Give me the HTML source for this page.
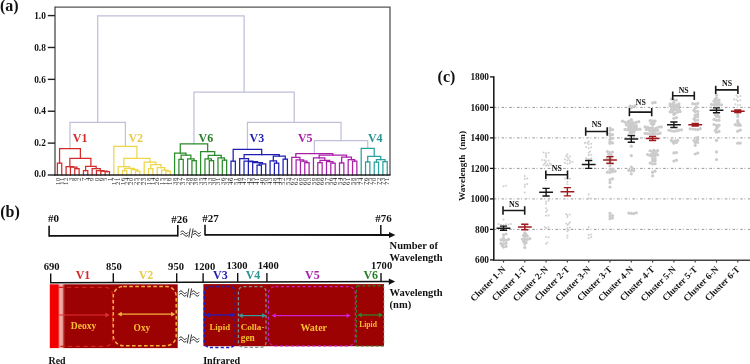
<!DOCTYPE html>
<html><head><meta charset="utf-8"><style>
html,body{margin:0;padding:0;background:#fff;}
svg{display:block;filter:blur(0.4px);}
text{font-family:'Liberation Serif',serif;font-weight:bold;}
.lf text{font-weight:normal;}
</style></head><body>
<svg width="750" height="364" viewBox="0 0 750 364">
<rect width="750" height="364" fill="#fff"/>
<text x="0.00" y="11.30" font-size="16" fill="#111" text-anchor="start" >(a)</text>
<g fill="none" stroke-width="1.25" stroke-linecap="square">
<path d="M69.98,148.50V122.40H125.38V146.30" stroke="#c0c0da"/>
<path d="M314.34,153.70V140.50H367.71V148.30" stroke="#c0c0da"/>
<path d="M247.43,149.40V122.40H341.03V140.50" stroke="#c0c0da"/>
<path d="M193.97,143.90V92.00H294.23V122.40" stroke="#c0c0da"/>
<path d="M97.68,122.40V15.90H244.10V92.00" stroke="#c0c0da"/>
<path d="M57.40,175.00V163.00H61.74V175.00" stroke="#d42a2a"/>
<path d="M74.76,175.00V168.50H79.10V175.00" stroke="#d42a2a"/>
<path d="M70.42,175.00V167.00H76.93V168.50" stroke="#d42a2a"/>
<path d="M66.08,175.00V166.50H73.67V167.00" stroke="#d42a2a"/>
<path d="M83.44,175.00V170.50H87.78V175.00" stroke="#d42a2a"/>
<path d="M105.14,175.00V171.50H109.48V175.00" stroke="#d42a2a"/>
<path d="M100.80,175.00V171.00H107.31V171.50" stroke="#d42a2a"/>
<path d="M96.46,175.00V170.50H104.05V171.00" stroke="#d42a2a"/>
<path d="M92.12,175.00V168.60H100.26V170.50" stroke="#d42a2a"/>
<path d="M85.61,170.50V166.30H96.19V168.60" stroke="#d42a2a"/>
<path d="M69.88,166.50V158.40H90.90V166.30" stroke="#d42a2a"/>
<path d="M59.57,163.00V148.50H80.39V158.40" stroke="#d42a2a"/>
<path d="M122.50,175.00V170.50H126.84V175.00" stroke="#eed648"/>
<path d="M135.52,175.00V171.00H139.86V175.00" stroke="#eed648"/>
<path d="M131.18,175.00V169.50H137.69V171.00" stroke="#eed648"/>
<path d="M124.67,170.50V168.40H134.44V169.50" stroke="#eed648"/>
<path d="M118.16,175.00V166.50H129.55V168.40" stroke="#eed648"/>
<path d="M148.54,175.00V168.50H152.88V175.00" stroke="#eed648"/>
<path d="M165.90,175.00V171.00H170.24V175.00" stroke="#eed648"/>
<path d="M161.56,175.00V170.00H168.07V171.00" stroke="#eed648"/>
<path d="M157.22,175.00V167.50H164.81V170.00" stroke="#eed648"/>
<path d="M150.71,168.50V164.60H161.02V167.50" stroke="#eed648"/>
<path d="M144.20,175.00V162.20H155.86V164.60" stroke="#eed648"/>
<path d="M123.86,166.50V158.30H150.03V162.20" stroke="#eed648"/>
<path d="M113.82,175.00V146.30H136.94V158.30" stroke="#eed648"/>
<path d="M178.92,175.00V159.40H183.26V175.00" stroke="#2a8c2a"/>
<path d="M191.94,175.00V160.50H196.28V175.00" stroke="#2a8c2a"/>
<path d="M187.60,175.00V158.90H194.11V160.50" stroke="#2a8c2a"/>
<path d="M181.09,159.40V155.10H190.86V158.90" stroke="#2a8c2a"/>
<path d="M174.58,175.00V153.00H185.97V155.10" stroke="#2a8c2a"/>
<path d="M209.30,175.00V160.50H213.64V175.00" stroke="#2a8c2a"/>
<path d="M204.96,175.00V158.90H211.47V160.50" stroke="#2a8c2a"/>
<path d="M222.32,175.00V160.00H226.66V175.00" stroke="#2a8c2a"/>
<path d="M217.98,175.00V157.80H224.49V160.00" stroke="#2a8c2a"/>
<path d="M208.22,158.90V155.30H221.24V157.80" stroke="#2a8c2a"/>
<path d="M200.62,175.00V151.70H214.73V155.30" stroke="#2a8c2a"/>
<path d="M180.28,153.00V143.90H207.67V151.70" stroke="#2a8c2a"/>
<path d="M231.00,175.00V161.00H235.34V175.00" stroke="#1e1eb4"/>
<path d="M257.04,175.00V165.00H261.38V175.00" stroke="#1e1eb4"/>
<path d="M259.21,165.00V163.90H265.72V175.00" stroke="#1e1eb4"/>
<path d="M252.70,175.00V162.60H262.46V163.90" stroke="#1e1eb4"/>
<path d="M248.36,175.00V161.70H257.58V162.60" stroke="#1e1eb4"/>
<path d="M244.02,175.00V161.00H252.97V161.70" stroke="#1e1eb4"/>
<path d="M239.68,175.00V158.60H248.50V161.00" stroke="#1e1eb4"/>
<path d="M274.40,175.00V163.00H278.74V175.00" stroke="#1e1eb4"/>
<path d="M270.06,175.00V160.80H276.57V163.00" stroke="#1e1eb4"/>
<path d="M283.08,175.00V159.10H287.42V175.00" stroke="#1e1eb4"/>
<path d="M273.31,160.80V156.00H285.25V159.10" stroke="#1e1eb4"/>
<path d="M244.09,158.60V154.50H279.28V156.00" stroke="#1e1eb4"/>
<path d="M233.17,161.00V149.40H261.69V154.50" stroke="#1e1eb4"/>
<path d="M304.78,175.00V162.50H309.12V175.00" stroke="#aa1eaa"/>
<path d="M300.44,175.00V161.00H306.95V162.50" stroke="#aa1eaa"/>
<path d="M296.10,175.00V159.80H303.69V161.00" stroke="#aa1eaa"/>
<path d="M291.76,175.00V157.40H299.90V159.80" stroke="#aa1eaa"/>
<path d="M317.80,175.00V162.50H322.14V175.00" stroke="#aa1eaa"/>
<path d="M330.82,175.00V163.00H335.16V175.00" stroke="#aa1eaa"/>
<path d="M326.48,175.00V161.50H332.99V163.00" stroke="#aa1eaa"/>
<path d="M319.97,162.50V160.30H329.74V161.50" stroke="#aa1eaa"/>
<path d="M313.46,175.00V157.90H324.85V160.30" stroke="#aa1eaa"/>
<path d="M339.50,175.00V162.80H343.84V175.00" stroke="#aa1eaa"/>
<path d="M352.52,175.00V161.00H356.86V175.00" stroke="#aa1eaa"/>
<path d="M348.18,175.00V159.60H354.69V161.00" stroke="#aa1eaa"/>
<path d="M341.67,162.80V157.10H351.43V159.60" stroke="#aa1eaa"/>
<path d="M319.16,157.90V155.10H346.55V157.10" stroke="#aa1eaa"/>
<path d="M295.83,157.40V153.70H332.85V155.10" stroke="#aa1eaa"/>
<path d="M365.54,175.00V161.90H369.88V175.00" stroke="#2aa0a0"/>
<path d="M374.22,175.00V162.00H378.56V175.00" stroke="#2aa0a0"/>
<path d="M382.90,175.00V161.50H387.24V175.00" stroke="#2aa0a0"/>
<path d="M376.39,162.00V159.50H385.07V161.50" stroke="#2aa0a0"/>
<path d="M367.71,161.90V156.40H380.73V159.50" stroke="#2aa0a0"/>
<path d="M361.20,175.00V148.30H374.22V156.40" stroke="#2aa0a0"/>
</g>
<path d="M55.0,7.2H390.0V175.0" fill="none" stroke="#555" stroke-width="1.3"/>
<line x1="55.00" y1="6.60" x2="55.00" y2="175.70" stroke="#4a4a4a" stroke-width="1.3" />
<line x1="54.30" y1="175.00" x2="390.60" y2="175.00" stroke="#222" stroke-width="1.5" />
<line x1="47.80" y1="175.00" x2="55.00" y2="175.00" stroke="#222" stroke-width="1.4" />
<text x="45.80" y="177.30" font-size="9.3" fill="#111" text-anchor="end" >0.0</text>
<line x1="47.80" y1="143.12" x2="55.00" y2="143.12" stroke="#222" stroke-width="1.4" />
<text x="45.80" y="146.32" font-size="9.3" fill="#111" text-anchor="end" >0.2</text>
<line x1="47.80" y1="111.24" x2="55.00" y2="111.24" stroke="#222" stroke-width="1.4" />
<text x="45.80" y="114.44" font-size="9.3" fill="#111" text-anchor="end" >0.4</text>
<line x1="47.80" y1="79.36" x2="55.00" y2="79.36" stroke="#222" stroke-width="1.4" />
<text x="45.80" y="82.56" font-size="9.3" fill="#111" text-anchor="end" >0.6</text>
<line x1="47.80" y1="47.48" x2="55.00" y2="47.48" stroke="#222" stroke-width="1.4" />
<text x="45.80" y="50.68" font-size="9.3" fill="#111" text-anchor="end" >0.8</text>
<line x1="47.80" y1="15.60" x2="55.00" y2="15.60" stroke="#222" stroke-width="1.4" />
<text x="45.80" y="18.80" font-size="9.3" fill="#111" text-anchor="end" >1.0</text>
<text x="72.80" y="142.00" font-size="12" fill="#d42a2a" text-anchor="start" >V1</text>
<text x="128.40" y="142.00" font-size="12" fill="#e6cc50" text-anchor="start" >V2</text>
<text x="198.50" y="142.00" font-size="12" fill="#287e28" text-anchor="start" >V6</text>
<text x="249.50" y="142.00" font-size="12" fill="#1e1eb4" text-anchor="start" >V3</text>
<text x="297.90" y="142.00" font-size="12" fill="#aa1eaa" text-anchor="start" >V5</text>
<text x="367.90" y="142.00" font-size="12" fill="#2a9490" text-anchor="start" >V4</text>
<g font-size="7" fill="#1a1a1a" class="lf">
<text transform="translate(59.60,176.9) rotate(-90) scale(0.95,0.93)" letter-spacing="0.7" text-anchor="end">10</text>
<text transform="translate(63.94,176.9) rotate(-90) scale(0.95,0.93)" letter-spacing="0.7" text-anchor="end">11</text>
<text transform="translate(68.28,176.9) rotate(-90) scale(0.95,0.93)" letter-spacing="0.7" text-anchor="end">12</text>
<text transform="translate(72.62,176.9) rotate(-90) scale(0.95,0.93)" letter-spacing="0.7" text-anchor="end">3</text>
<text transform="translate(76.96,176.9) rotate(-90) scale(0.95,0.93)" letter-spacing="0.7" text-anchor="end">8</text>
<text transform="translate(81.30,176.9) rotate(-90) scale(0.95,0.93)" letter-spacing="0.7" text-anchor="end">2</text>
<text transform="translate(85.64,176.9) rotate(-90) scale(0.95,0.93)" letter-spacing="0.7" text-anchor="end">7</text>
<text transform="translate(89.98,176.9) rotate(-90) scale(0.95,0.93)" letter-spacing="0.7" text-anchor="end">4</text>
<text transform="translate(94.32,176.9) rotate(-90) scale(0.95,0.93)" letter-spacing="0.7" text-anchor="end">9</text>
<text transform="translate(98.66,176.9) rotate(-90) scale(0.95,0.93)" letter-spacing="0.7" text-anchor="end">0</text>
<text transform="translate(103.00,176.9) rotate(-90) scale(0.95,0.93)" letter-spacing="0.7" text-anchor="end">6</text>
<text transform="translate(107.34,176.9) rotate(-90) scale(0.95,0.93)" letter-spacing="0.7" text-anchor="end">5</text>
<text transform="translate(111.68,176.9) rotate(-90) scale(0.95,0.93)" letter-spacing="0.7" text-anchor="end">1</text>
<text transform="translate(116.02,176.9) rotate(-90) scale(0.95,0.93)" letter-spacing="0.7" text-anchor="end">17</text>
<text transform="translate(120.36,176.9) rotate(-90) scale(0.95,0.93)" letter-spacing="0.7" text-anchor="end">21</text>
<text transform="translate(124.70,176.9) rotate(-90) scale(0.95,0.93)" letter-spacing="0.7" text-anchor="end">16</text>
<text transform="translate(129.04,176.9) rotate(-90) scale(0.95,0.93)" letter-spacing="0.7" text-anchor="end">24</text>
<text transform="translate(133.38,176.9) rotate(-90) scale(0.95,0.93)" letter-spacing="0.7" text-anchor="end">20</text>
<text transform="translate(137.72,176.9) rotate(-90) scale(0.95,0.93)" letter-spacing="0.7" text-anchor="end">25</text>
<text transform="translate(142.06,176.9) rotate(-90) scale(0.95,0.93)" letter-spacing="0.7" text-anchor="end">22</text>
<text transform="translate(146.40,176.9) rotate(-90) scale(0.95,0.93)" letter-spacing="0.7" text-anchor="end">23</text>
<text transform="translate(150.74,176.9) rotate(-90) scale(0.95,0.93)" letter-spacing="0.7" text-anchor="end">18</text>
<text transform="translate(155.08,176.9) rotate(-90) scale(0.95,0.93)" letter-spacing="0.7" text-anchor="end">14</text>
<text transform="translate(159.42,176.9) rotate(-90) scale(0.95,0.93)" letter-spacing="0.7" text-anchor="end">26</text>
<text transform="translate(163.76,176.9) rotate(-90) scale(0.95,0.93)" letter-spacing="0.7" text-anchor="end">15</text>
<text transform="translate(168.10,176.9) rotate(-90) scale(0.95,0.93)" letter-spacing="0.7" text-anchor="end">13</text>
<text transform="translate(172.44,176.9) rotate(-90) scale(0.95,0.93)" letter-spacing="0.7" text-anchor="end">19</text>
<text transform="translate(176.78,176.9) rotate(-90) scale(0.95,0.93)" letter-spacing="0.7" text-anchor="end">38</text>
<text transform="translate(181.12,176.9) rotate(-90) scale(0.95,0.93)" letter-spacing="0.7" text-anchor="end">27</text>
<text transform="translate(185.46,176.9) rotate(-90) scale(0.95,0.93)" letter-spacing="0.7" text-anchor="end">37</text>
<text transform="translate(189.80,176.9) rotate(-90) scale(0.95,0.93)" letter-spacing="0.7" text-anchor="end">28</text>
<text transform="translate(194.14,176.9) rotate(-90) scale(0.95,0.93)" letter-spacing="0.7" text-anchor="end">29</text>
<text transform="translate(198.48,176.9) rotate(-90) scale(0.95,0.93)" letter-spacing="0.7" text-anchor="end">39</text>
<text transform="translate(202.82,176.9) rotate(-90) scale(0.95,0.93)" letter-spacing="0.7" text-anchor="end">35</text>
<text transform="translate(207.16,176.9) rotate(-90) scale(0.95,0.93)" letter-spacing="0.7" text-anchor="end">34</text>
<text transform="translate(211.50,176.9) rotate(-90) scale(0.95,0.93)" letter-spacing="0.7" text-anchor="end">33</text>
<text transform="translate(215.84,176.9) rotate(-90) scale(0.95,0.93)" letter-spacing="0.7" text-anchor="end">30</text>
<text transform="translate(220.18,176.9) rotate(-90) scale(0.95,0.93)" letter-spacing="0.7" text-anchor="end">31</text>
<text transform="translate(224.52,176.9) rotate(-90) scale(0.95,0.93)" letter-spacing="0.7" text-anchor="end">36</text>
<text transform="translate(228.86,176.9) rotate(-90) scale(0.95,0.93)" letter-spacing="0.7" text-anchor="end">32</text>
<text transform="translate(233.20,176.9) rotate(-90) scale(0.95,0.93)" letter-spacing="0.7" text-anchor="end">46</text>
<text transform="translate(237.54,176.9) rotate(-90) scale(0.95,0.93)" letter-spacing="0.7" text-anchor="end">51</text>
<text transform="translate(241.88,176.9) rotate(-90) scale(0.95,0.93)" letter-spacing="0.7" text-anchor="end">49</text>
<text transform="translate(246.22,176.9) rotate(-90) scale(0.95,0.93)" letter-spacing="0.7" text-anchor="end">47</text>
<text transform="translate(250.56,176.9) rotate(-90) scale(0.95,0.93)" letter-spacing="0.7" text-anchor="end">42</text>
<text transform="translate(254.90,176.9) rotate(-90) scale(0.95,0.93)" letter-spacing="0.7" text-anchor="end">45</text>
<text transform="translate(259.24,176.9) rotate(-90) scale(0.95,0.93)" letter-spacing="0.7" text-anchor="end">41</text>
<text transform="translate(263.58,176.9) rotate(-90) scale(0.95,0.93)" letter-spacing="0.7" text-anchor="end">40</text>
<text transform="translate(267.92,176.9) rotate(-90) scale(0.95,0.93)" letter-spacing="0.7" text-anchor="end">50</text>
<text transform="translate(272.26,176.9) rotate(-90) scale(0.95,0.93)" letter-spacing="0.7" text-anchor="end">43</text>
<text transform="translate(276.60,176.9) rotate(-90) scale(0.95,0.93)" letter-spacing="0.7" text-anchor="end">48</text>
<text transform="translate(280.94,176.9) rotate(-90) scale(0.95,0.93)" letter-spacing="0.7" text-anchor="end">44</text>
<text transform="translate(285.28,176.9) rotate(-90) scale(0.95,0.93)" letter-spacing="0.7" text-anchor="end">52</text>
<text transform="translate(289.62,176.9) rotate(-90) scale(0.95,0.93)" letter-spacing="0.7" text-anchor="end">53</text>
<text transform="translate(293.96,176.9) rotate(-90) scale(0.95,0.93)" letter-spacing="0.7" text-anchor="end">67</text>
<text transform="translate(298.30,176.9) rotate(-90) scale(0.95,0.93)" letter-spacing="0.7" text-anchor="end">62</text>
<text transform="translate(302.64,176.9) rotate(-90) scale(0.95,0.93)" letter-spacing="0.7" text-anchor="end">69</text>
<text transform="translate(306.98,176.9) rotate(-90) scale(0.95,0.93)" letter-spacing="0.7" text-anchor="end">60</text>
<text transform="translate(311.32,176.9) rotate(-90) scale(0.95,0.93)" letter-spacing="0.7" text-anchor="end">63</text>
<text transform="translate(315.66,176.9) rotate(-90) scale(0.95,0.93)" letter-spacing="0.7" text-anchor="end">59</text>
<text transform="translate(320.00,176.9) rotate(-90) scale(0.95,0.93)" letter-spacing="0.7" text-anchor="end">68</text>
<text transform="translate(324.34,176.9) rotate(-90) scale(0.95,0.93)" letter-spacing="0.7" text-anchor="end">66</text>
<text transform="translate(328.68,176.9) rotate(-90) scale(0.95,0.93)" letter-spacing="0.7" text-anchor="end">57</text>
<text transform="translate(333.02,176.9) rotate(-90) scale(0.95,0.93)" letter-spacing="0.7" text-anchor="end">56</text>
<text transform="translate(337.36,176.9) rotate(-90) scale(0.95,0.93)" letter-spacing="0.7" text-anchor="end">64</text>
<text transform="translate(341.70,176.9) rotate(-90) scale(0.95,0.93)" letter-spacing="0.7" text-anchor="end">54</text>
<text transform="translate(346.04,176.9) rotate(-90) scale(0.95,0.93)" letter-spacing="0.7" text-anchor="end">65</text>
<text transform="translate(350.38,176.9) rotate(-90) scale(0.95,0.93)" letter-spacing="0.7" text-anchor="end">61</text>
<text transform="translate(354.72,176.9) rotate(-90) scale(0.95,0.93)" letter-spacing="0.7" text-anchor="end">58</text>
<text transform="translate(359.06,176.9) rotate(-90) scale(0.95,0.93)" letter-spacing="0.7" text-anchor="end">55</text>
<text transform="translate(363.40,176.9) rotate(-90) scale(0.95,0.93)" letter-spacing="0.7" text-anchor="end">74</text>
<text transform="translate(367.74,176.9) rotate(-90) scale(0.95,0.93)" letter-spacing="0.7" text-anchor="end">76</text>
<text transform="translate(372.08,176.9) rotate(-90) scale(0.95,0.93)" letter-spacing="0.7" text-anchor="end">75</text>
<text transform="translate(376.42,176.9) rotate(-90) scale(0.95,0.93)" letter-spacing="0.7" text-anchor="end">70</text>
<text transform="translate(380.76,176.9) rotate(-90) scale(0.95,0.93)" letter-spacing="0.7" text-anchor="end">72</text>
<text transform="translate(385.10,176.9) rotate(-90) scale(0.95,0.93)" letter-spacing="0.7" text-anchor="end">73</text>
<text transform="translate(389.44,176.9) rotate(-90) scale(0.95,0.93)" letter-spacing="0.7" text-anchor="end">71</text>
</g>
<text x="0.20" y="216.80" font-size="16" fill="#111" text-anchor="start" >(b)</text>
<line x1="49.10" y1="235.90" x2="177.80" y2="235.70" stroke="#111" stroke-width="1.8" />
<line x1="49.10" y1="225.80" x2="49.10" y2="236.80" stroke="#111" stroke-width="1.6" />
<line x1="177.80" y1="225.00" x2="177.80" y2="236.60" stroke="#111" stroke-width="1.6" />
<line x1="205.00" y1="224.80" x2="205.00" y2="235.60" stroke="#111" stroke-width="1.6" />
<line x1="205.00" y1="234.90" x2="390.00" y2="235.00" stroke="#111" stroke-width="1.8" />
<path d="M389.0,231.9L395.4,235.0L389.0,238.1Z" fill="#111"/>
<line x1="380.80" y1="225.00" x2="380.80" y2="235.00" stroke="#111" stroke-width="1.5" />
<text x="48.00" y="222.20" font-size="11" fill="#111" text-anchor="start" >#0</text>
<text x="171.20" y="222.60" font-size="11" fill="#111" text-anchor="start" >#26</text>
<text x="202.30" y="222.00" font-size="11" fill="#111" text-anchor="start" >#27</text>
<text x="375.20" y="222.20" font-size="11" fill="#111" text-anchor="start" >#76</text>
<text x="389.60" y="248.70" font-size="10.5" fill="#111" text-anchor="start" >Number of</text>
<text x="389.60" y="260.50" font-size="10.5" fill="#111" text-anchor="start" >Wavelength</text>
<path d="M180.50,232.30c1.2,-1.8 2.6,-1.8 3.8,0s2.6,1.8 3.8,0 M193.10,232.30c1.2,-1.8 2.6,-1.8 3.8,0s2.6,1.8 3.8,0 M180.50,234.90c1.2,-1.8 2.6,-1.8 3.8,0s2.6,1.8 3.8,0 M193.10,234.90c1.2,-1.8 2.6,-1.8 3.8,0s2.6,1.8 3.8,0" fill="none" stroke="#222" stroke-width="0.95"/>
<path d="M188.80,237.50L190.30,228.50M191.40,238.00L193.10,228.50" stroke="#222" stroke-width="0.9"/>
<path d="M50.0,282.70L390.0,281.57" stroke="#111" stroke-width="1.4"/>
<path d="M388.8,278.47L395.2,281.55L388.8,284.67Z" fill="#111"/>
<line x1="50.70" y1="273.40" x2="50.70" y2="282.70" stroke="#111" stroke-width="1.4" />
<text x="43.70" y="269.80" font-size="10.6" fill="#111" text-anchor="start" >690</text>
<line x1="113.30" y1="273.31" x2="113.30" y2="282.49" stroke="#111" stroke-width="1.4" />
<text x="106.00" y="269.69" font-size="10.6" fill="#111" text-anchor="start" >850</text>
<line x1="176.70" y1="273.21" x2="176.70" y2="282.28" stroke="#111" stroke-width="1.4" />
<text x="168.10" y="269.57" font-size="10.6" fill="#111" text-anchor="start" >950</text>
<line x1="203.10" y1="273.17" x2="203.10" y2="282.19" stroke="#111" stroke-width="1.4" />
<text x="194.00" y="269.52" font-size="10.6" fill="#111" text-anchor="start" >1200</text>
<line x1="237.70" y1="273.12" x2="237.70" y2="282.08" stroke="#111" stroke-width="1.4" />
<text x="226.40" y="269.46" font-size="10.6" fill="#111" text-anchor="start" >1300</text>
<line x1="266.90" y1="273.07" x2="266.90" y2="281.98" stroke="#111" stroke-width="1.4" />
<text x="257.70" y="269.41" font-size="10.6" fill="#111" text-anchor="start" >1400</text>
<line x1="381.00" y1="272.90" x2="381.00" y2="281.60" stroke="#111" stroke-width="1.4" />
<text x="371.00" y="269.20" font-size="10.6" fill="#111" text-anchor="start" >1700</text>
<text x="75.70" y="279.40" font-size="12" fill="#d42a2a" text-anchor="start" >V1</text>
<text x="138.70" y="279.40" font-size="12" fill="#e6cc50" text-anchor="start" >V2</text>
<text x="213.00" y="279.40" font-size="12" fill="#1e1eb4" text-anchor="start" >V3</text>
<text x="245.70" y="279.40" font-size="12" fill="#2a9490" text-anchor="start" >V4</text>
<text x="305.00" y="279.40" font-size="12" fill="#aa1eaa" text-anchor="start" >V5</text>
<text x="363.40" y="279.40" font-size="12" fill="#287e28" text-anchor="start" >V6</text>
<text x="389.60" y="296.20" font-size="10.5" fill="#111" text-anchor="start" >Wavelength</text>
<text x="389.60" y="307.60" font-size="10.5" fill="#111" text-anchor="start" >(nm)</text>
<defs><linearGradient id="rg" gradientUnits="userSpaceOnUse" x1="49.8" x2="177.7" y1="0" y2="0"><stop offset="0" stop-color="#f40000"/><stop offset="0.064" stop-color="#f00000"/><stop offset="0.072" stop-color="#ee6060"/><stop offset="0.078" stop-color="#f4b2aa"/><stop offset="0.098" stop-color="#eea49c"/><stop offset="0.108" stop-color="#c04040"/><stop offset="0.119" stop-color="#a00505"/><stop offset="0.127" stop-color="#9c0202"/><stop offset="1" stop-color="#9c0202"/></linearGradient></defs>
<rect x="49.8" y="284.3" width="127.9" height="63.80000000000001" fill="url(#rg)"/>
<rect x="203.4" y="284.1" width="180.6" height="62.1" fill="#9c0202"/>
<path d="M59,287.4H105.5a7,7 0 0 1 7,7V339.3a7,7 0 0 1 -7,7H59" fill="none" stroke="#d42020" stroke-width="1.2" stroke-dasharray="4.5,3.2"/>
<rect x="113.30" y="286.40" width="62.90" height="59.30" rx="10" ry="10" fill="none" stroke="#f4b43c" stroke-width="1.5" stroke-dasharray="3.6,2.4"/>
<line x1="58.50" y1="315.0" x2="107.60" y2="315.0" stroke="#e03030" stroke-width="1.2"/>
<path d="M109.60,315.0L105.40,312.60L105.40,317.40Z" fill="#e03030"/>
<line x1="119.50" y1="314.2" x2="173.30" y2="314.2" stroke="#f2b43c" stroke-width="1.2"/>
<path d="M175.30,314.2L171.10,311.80L171.10,316.60Z" fill="#f2b43c"/>
<path d="M117.50,314.2L121.70,311.80L121.70,316.60Z" fill="#f2b43c"/>
<text x="70.80" y="329.20" font-size="9.6" fill="#f8c030" text-anchor="start" >Deoxy</text>
<text x="133.60" y="331.20" font-size="9.4" fill="#f8c030" text-anchor="start" >Oxy</text>
<rect x="204.30" y="286.60" width="31.00" height="61.00" rx="6" ry="6" fill="none" stroke="#2020b8" stroke-width="1.5" stroke-dasharray="3.2,2.2"/>
<rect x="238.40" y="286.60" width="27.60" height="60.80" rx="5" ry="5" fill="none" stroke="#7a8e8e" stroke-width="1.3" stroke-dasharray="3.2,2.2"/>
<rect x="268.40" y="286.60" width="86.90" height="59.30" rx="7" ry="7" fill="none" stroke="#c020c0" stroke-width="1.2" stroke-dasharray="3.2,2.2"/>
<rect x="356.50" y="285.80" width="27.10" height="60.20" rx="1" ry="1" fill="none" stroke="#3a7a2a" stroke-width="1.2" stroke-dasharray="3,2"/>
<line x1="207.30" y1="315.0" x2="232.90" y2="315.0" stroke="#2020c8" stroke-width="1.2"/>
<path d="M234.90,315.0L230.70,312.60L230.70,317.40Z" fill="#2020c8"/>
<path d="M205.30,315.0L209.50,312.60L209.50,317.40Z" fill="#2020c8"/>
<line x1="240.40" y1="315.6" x2="264.30" y2="315.6" stroke="#30a0a0" stroke-width="1.2"/>
<path d="M266.30,315.6L262.10,313.20L262.10,318.00Z" fill="#30a0a0"/>
<path d="M238.40,315.6L242.60,313.20L242.60,318.00Z" fill="#30a0a0"/>
<line x1="273.50" y1="315.6" x2="348.80" y2="315.6" stroke="#d020d0" stroke-width="1.2"/>
<path d="M350.80,315.6L346.60,313.20L346.60,318.00Z" fill="#d020d0"/>
<path d="M271.50,315.6L275.70,313.20L275.70,318.00Z" fill="#d020d0"/>
<line x1="359.50" y1="315.0" x2="381.00" y2="315.0" stroke="#2a8a2a" stroke-width="1.2"/>
<path d="M383.00,315.0L378.80,312.60L378.80,317.40Z" fill="#2a8a2a"/>
<path d="M357.50,315.0L361.70,312.60L361.70,317.40Z" fill="#2a8a2a"/>
<text x="209.50" y="329.80" font-size="8.8" fill="#f8c030" text-anchor="start" >Lipid</text>
<text x="240.70" y="329.60" font-size="9.1" fill="#f8c030" text-anchor="start" >Colla-</text>
<text x="240.70" y="340.90" font-size="9.4" fill="#f8c030" text-anchor="start" >gen</text>
<text x="300.40" y="331.30" font-size="10" fill="#f8c030" text-anchor="start" >Water</text>
<text x="359.20" y="326.80" font-size="7.6" fill="#f8c030" text-anchor="start" >Lipid</text>
<path d="M179.00,292.20c1.2,-1.8 2.6,-1.8 3.8,0s2.6,1.8 3.8,0 M191.60,292.20c1.2,-1.8 2.6,-1.8 3.8,0s2.6,1.8 3.8,0 M179.00,294.80c1.2,-1.8 2.6,-1.8 3.8,0s2.6,1.8 3.8,0 M191.60,294.80c1.2,-1.8 2.6,-1.8 3.8,0s2.6,1.8 3.8,0" fill="none" stroke="#222" stroke-width="0.95"/>
<path d="M187.30,297.40L188.80,288.40M189.90,297.90L191.60,288.40" stroke="#222" stroke-width="0.9"/>
<path d="M179.00,338.20c1.2,-1.8 2.6,-1.8 3.8,0s2.6,1.8 3.8,0 M191.60,338.20c1.2,-1.8 2.6,-1.8 3.8,0s2.6,1.8 3.8,0 M179.00,340.80c1.2,-1.8 2.6,-1.8 3.8,0s2.6,1.8 3.8,0 M191.60,340.80c1.2,-1.8 2.6,-1.8 3.8,0s2.6,1.8 3.8,0" fill="none" stroke="#222" stroke-width="0.95"/>
<path d="M187.30,343.40L188.80,334.40M189.90,343.90L191.60,334.40" stroke="#222" stroke-width="0.9"/>
<text x="48.60" y="363.60" font-size="9.9" fill="#111" text-anchor="start" >Red</text>
<text x="203.20" y="363.60" font-size="10.1" fill="#111" text-anchor="start" >Infrared</text>
<text x="437.60" y="82.30" font-size="16" fill="#111" text-anchor="start" >(c)</text>
<line x1="493.80" y1="229.40" x2="750.00" y2="229.40" stroke="#8c8c8c" stroke-width="0.9" stroke-dasharray="2.6,1.6,0.9,2.6"/>
<line x1="493.80" y1="198.90" x2="750.00" y2="198.90" stroke="#8c8c8c" stroke-width="0.9" stroke-dasharray="2.6,1.6,0.9,2.6"/>
<line x1="493.80" y1="168.40" x2="750.00" y2="168.40" stroke="#8c8c8c" stroke-width="0.9" stroke-dasharray="2.6,1.6,0.9,2.6"/>
<line x1="493.80" y1="137.90" x2="750.00" y2="137.90" stroke="#8c8c8c" stroke-width="0.9" stroke-dasharray="2.6,1.6,0.9,2.6"/>
<line x1="493.80" y1="107.40" x2="750.00" y2="107.40" stroke="#8c8c8c" stroke-width="0.9" stroke-dasharray="2.6,1.6,0.9,2.6"/>
<line x1="493.80" y1="76.30" x2="493.80" y2="260.60" stroke="#111" stroke-width="1.5" />
<line x1="493.10" y1="260.20" x2="750.00" y2="260.20" stroke="#444" stroke-width="1.4" />
<line x1="490.00" y1="259.90" x2="493.80" y2="259.90" stroke="#111" stroke-width="1.3" />
<text x="489.00" y="263.10" font-size="9.3" fill="#111" text-anchor="end" >600</text>
<line x1="490.00" y1="229.40" x2="493.80" y2="229.40" stroke="#111" stroke-width="1.3" />
<text x="489.00" y="232.60" font-size="9.3" fill="#111" text-anchor="end" >800</text>
<line x1="490.00" y1="198.90" x2="493.80" y2="198.90" stroke="#111" stroke-width="1.3" />
<text x="489.00" y="202.10" font-size="9.3" fill="#111" text-anchor="end" >1000</text>
<line x1="490.00" y1="168.40" x2="493.80" y2="168.40" stroke="#111" stroke-width="1.3" />
<text x="489.00" y="171.60" font-size="9.3" fill="#111" text-anchor="end" >1200</text>
<line x1="490.00" y1="137.90" x2="493.80" y2="137.90" stroke="#111" stroke-width="1.3" />
<text x="489.00" y="141.10" font-size="9.3" fill="#111" text-anchor="end" >1400</text>
<line x1="490.00" y1="107.40" x2="493.80" y2="107.40" stroke="#111" stroke-width="1.3" />
<text x="489.00" y="110.60" font-size="9.3" fill="#111" text-anchor="end" >1600</text>
<line x1="490.00" y1="76.90" x2="493.80" y2="76.90" stroke="#111" stroke-width="1.3" />
<text x="489.00" y="80.10" font-size="9.3" fill="#111" text-anchor="end" >1800</text>
<text transform="translate(465.0,166.0) rotate(-90)" font-size="9.2" fill="#111" text-anchor="middle" xml:space="preserve">Wavelength  (nm)</text>
<line x1="503.50" y1="260.20" x2="503.50" y2="262.60" stroke="#444" stroke-width="1.2" />
<text transform="translate(506.10,269.8) rotate(-45)" font-size="9.2" fill="#111" text-anchor="end">Cluster 1-N</text>
<line x1="524.80" y1="260.20" x2="524.80" y2="262.60" stroke="#444" stroke-width="1.2" />
<text transform="translate(527.40,269.8) rotate(-45)" font-size="9.2" fill="#111" text-anchor="end">Cluster 1-T</text>
<line x1="546.10" y1="260.20" x2="546.10" y2="262.60" stroke="#444" stroke-width="1.2" />
<text transform="translate(548.70,269.8) rotate(-45)" font-size="9.2" fill="#111" text-anchor="end">Cluster 2-N</text>
<line x1="567.40" y1="260.20" x2="567.40" y2="262.60" stroke="#444" stroke-width="1.2" />
<text transform="translate(570.00,269.8) rotate(-45)" font-size="9.2" fill="#111" text-anchor="end">Cluster 2-T</text>
<line x1="588.70" y1="260.20" x2="588.70" y2="262.60" stroke="#444" stroke-width="1.2" />
<text transform="translate(591.30,269.8) rotate(-45)" font-size="9.2" fill="#111" text-anchor="end">Cluster 3-N</text>
<line x1="610.00" y1="260.20" x2="610.00" y2="262.60" stroke="#444" stroke-width="1.2" />
<text transform="translate(612.60,269.8) rotate(-45)" font-size="9.2" fill="#111" text-anchor="end">Cluster 3-T</text>
<line x1="631.30" y1="260.20" x2="631.30" y2="262.60" stroke="#444" stroke-width="1.2" />
<text transform="translate(633.90,269.8) rotate(-45)" font-size="9.2" fill="#111" text-anchor="end">Cluster 4-N</text>
<line x1="652.60" y1="260.20" x2="652.60" y2="262.60" stroke="#444" stroke-width="1.2" />
<text transform="translate(655.20,269.8) rotate(-45)" font-size="9.2" fill="#111" text-anchor="end">Cluster 4-T</text>
<line x1="673.90" y1="260.20" x2="673.90" y2="262.60" stroke="#444" stroke-width="1.2" />
<text transform="translate(676.50,269.8) rotate(-45)" font-size="9.2" fill="#111" text-anchor="end">Cluster 5-N</text>
<line x1="695.20" y1="260.20" x2="695.20" y2="262.60" stroke="#444" stroke-width="1.2" />
<text transform="translate(697.80,269.8) rotate(-45)" font-size="9.2" fill="#111" text-anchor="end">Cluster 5-T</text>
<line x1="716.50" y1="260.20" x2="716.50" y2="262.60" stroke="#444" stroke-width="1.2" />
<text transform="translate(719.10,269.8) rotate(-45)" font-size="9.2" fill="#111" text-anchor="end">Cluster 6-N</text>
<line x1="737.80" y1="260.20" x2="737.80" y2="262.60" stroke="#444" stroke-width="1.2" />
<text transform="translate(740.40,269.8) rotate(-45)" font-size="9.2" fill="#111" text-anchor="end">Cluster 6-T</text>
<g fill="#d2d2d2">
<circle cx="503.50" cy="225.03" r="1.05"/>
<circle cx="506.00" cy="224.34" r="1.05"/>
<circle cx="501.00" cy="224.78" r="1.05"/>
<circle cx="508.50" cy="224.44" r="1.05"/>
<circle cx="498.50" cy="224.16" r="1.05"/>
<circle cx="511.00" cy="224.04" r="1.05"/>
<circle cx="503.50" cy="219.58" r="1.05"/>
<circle cx="503.50" cy="186.20" r="1.05"/>
<circle cx="506.00" cy="185.76" r="1.05"/>
<circle cx="524.80" cy="227.64" r="1.05"/>
<circle cx="524.80" cy="224.76" r="1.05"/>
<circle cx="527.30" cy="224.58" r="1.05"/>
<circle cx="522.30" cy="224.42" r="1.05"/>
<circle cx="524.80" cy="192.56" r="1.05"/>
<circle cx="524.80" cy="186.68" r="1.05"/>
<circle cx="524.80" cy="184.62" r="1.05"/>
<circle cx="527.30" cy="184.15" r="1.05"/>
<circle cx="524.80" cy="178.87" r="1.05"/>
<circle cx="527.30" cy="178.42" r="1.05"/>
<circle cx="524.80" cy="176.12" r="1.05"/>
<circle cx="546.10" cy="243.71" r="1.05"/>
<circle cx="547.35" cy="242.43" r="1.05"/>
<circle cx="546.10" cy="237.01" r="1.05"/>
<circle cx="548.60" cy="237.18" r="1.05"/>
<circle cx="546.10" cy="228.17" r="1.05"/>
<circle cx="548.60" cy="227.41" r="1.05"/>
<circle cx="544.85" cy="226.97" r="1.05"/>
<circle cx="546.10" cy="215.62" r="1.05"/>
<circle cx="548.60" cy="215.42" r="1.05"/>
<circle cx="546.10" cy="211.85" r="1.05"/>
<circle cx="547.35" cy="210.32" r="1.05"/>
<circle cx="546.10" cy="208.34" r="1.05"/>
<circle cx="546.10" cy="203.77" r="1.05"/>
<circle cx="546.10" cy="201.56" r="1.05"/>
<circle cx="548.60" cy="200.59" r="1.05"/>
<circle cx="546.10" cy="180.26" r="1.05"/>
<circle cx="546.10" cy="176.75" r="1.05"/>
<circle cx="546.10" cy="172.56" r="1.05"/>
<circle cx="546.10" cy="165.59" r="1.05"/>
<circle cx="548.60" cy="165.68" r="1.05"/>
<circle cx="543.60" cy="164.88" r="1.05"/>
<circle cx="551.10" cy="164.66" r="1.05"/>
<circle cx="547.35" cy="164.37" r="1.05"/>
<circle cx="544.85" cy="163.24" r="1.05"/>
<circle cx="549.85" cy="163.41" r="1.05"/>
<circle cx="546.10" cy="161.61" r="1.05"/>
<circle cx="548.60" cy="160.49" r="1.05"/>
<circle cx="544.85" cy="160.23" r="1.05"/>
<circle cx="542.35" cy="160.06" r="1.05"/>
<circle cx="546.10" cy="157.12" r="1.05"/>
<circle cx="546.10" cy="155.30" r="1.05"/>
<circle cx="546.10" cy="153.19" r="1.05"/>
<circle cx="548.60" cy="152.74" r="1.05"/>
<circle cx="543.60" cy="152.46" r="1.05"/>
<circle cx="567.40" cy="237.69" r="1.05"/>
<circle cx="567.40" cy="235.48" r="1.05"/>
<circle cx="567.40" cy="231.13" r="1.05"/>
<circle cx="568.65" cy="229.90" r="1.05"/>
<circle cx="567.40" cy="228.07" r="1.05"/>
<circle cx="569.90" cy="227.44" r="1.05"/>
<circle cx="567.40" cy="225.06" r="1.05"/>
<circle cx="568.65" cy="223.85" r="1.05"/>
<circle cx="566.15" cy="223.56" r="1.05"/>
<circle cx="569.90" cy="222.41" r="1.05"/>
<circle cx="567.40" cy="217.10" r="1.05"/>
<circle cx="567.40" cy="215.20" r="1.05"/>
<circle cx="569.90" cy="214.55" r="1.05"/>
<circle cx="566.15" cy="213.93" r="1.05"/>
<circle cx="567.40" cy="184.32" r="1.05"/>
<circle cx="567.40" cy="181.82" r="1.05"/>
<circle cx="567.40" cy="179.29" r="1.05"/>
<circle cx="569.90" cy="178.68" r="1.05"/>
<circle cx="564.90" cy="178.48" r="1.05"/>
<circle cx="567.40" cy="163.73" r="1.05"/>
<circle cx="569.90" cy="163.10" r="1.05"/>
<circle cx="564.90" cy="163.07" r="1.05"/>
<circle cx="572.40" cy="162.06" r="1.05"/>
<circle cx="567.40" cy="160.38" r="1.05"/>
<circle cx="569.90" cy="160.74" r="1.05"/>
<circle cx="564.90" cy="159.40" r="1.05"/>
<circle cx="568.65" cy="158.78" r="1.05"/>
<circle cx="567.40" cy="157.32" r="1.05"/>
<circle cx="569.90" cy="156.48" r="1.05"/>
<circle cx="566.15" cy="156.01" r="1.05"/>
<circle cx="567.40" cy="154.38" r="1.05"/>
<circle cx="588.70" cy="238.17" r="1.05"/>
<circle cx="591.20" cy="237.05" r="1.05"/>
<circle cx="588.70" cy="234.90" r="1.05"/>
<circle cx="591.20" cy="234.53" r="1.05"/>
<circle cx="588.70" cy="227.02" r="1.05"/>
<circle cx="588.70" cy="198.37" r="1.05"/>
<circle cx="591.20" cy="198.59" r="1.05"/>
<circle cx="588.70" cy="194.38" r="1.05"/>
<circle cx="588.70" cy="159.12" r="1.05"/>
<circle cx="591.20" cy="158.29" r="1.05"/>
<circle cx="586.20" cy="158.16" r="1.05"/>
<circle cx="588.70" cy="155.16" r="1.05"/>
<circle cx="591.20" cy="154.85" r="1.05"/>
<circle cx="588.70" cy="152.82" r="1.05"/>
<circle cx="589.95" cy="151.45" r="1.05"/>
<circle cx="588.70" cy="148.18" r="1.05"/>
<circle cx="591.20" cy="147.37" r="1.05"/>
<circle cx="586.20" cy="147.11" r="1.05"/>
<circle cx="588.70" cy="144.24" r="1.05"/>
<circle cx="591.20" cy="143.80" r="1.05"/>
<circle cx="587.45" cy="142.88" r="1.05"/>
<circle cx="584.95" cy="142.88" r="1.05"/>
<circle cx="588.70" cy="141.57" r="1.05"/>
<circle cx="737.80" cy="105.27" r="1.05"/>
<circle cx="740.30" cy="104.94" r="1.05"/>
<circle cx="735.30" cy="104.29" r="1.05"/>
<circle cx="737.80" cy="101.08" r="1.05"/>
<circle cx="740.30" cy="100.24" r="1.05"/>
<circle cx="736.55" cy="99.68" r="1.05"/>
<circle cx="734.05" cy="99.40" r="1.05"/>
<circle cx="737.80" cy="97.02" r="1.05"/>
<circle cx="740.30" cy="96.01" r="1.05"/>
<circle cx="736.55" cy="95.50" r="1.05"/>
</g>
<g fill="#cbcbcb">
<circle cx="503.50" cy="247.09" r="1.6"/>
<circle cx="506.00" cy="246.47" r="1.6"/>
<circle cx="502.25" cy="245.59" r="1.6"/>
<circle cx="503.50" cy="243.86" r="1.6"/>
<circle cx="506.00" cy="243.37" r="1.6"/>
<circle cx="501.00" cy="243.43" r="1.6"/>
<circle cx="503.50" cy="240.45" r="1.6"/>
<circle cx="506.00" cy="240.41" r="1.6"/>
<circle cx="501.00" cy="239.83" r="1.6"/>
<circle cx="508.50" cy="239.35" r="1.6"/>
<circle cx="503.50" cy="237.96" r="1.6"/>
<circle cx="503.50" cy="234.86" r="1.6"/>
<circle cx="506.00" cy="234.02" r="1.6"/>
<circle cx="524.80" cy="247.50" r="1.6"/>
<circle cx="524.80" cy="244.12" r="1.6"/>
<circle cx="526.05" cy="242.43" r="1.6"/>
<circle cx="523.55" cy="241.47" r="1.6"/>
<circle cx="524.80" cy="239.39" r="1.6"/>
<circle cx="527.30" cy="239.39" r="1.6"/>
<circle cx="522.30" cy="239.02" r="1.6"/>
<circle cx="529.80" cy="238.62" r="1.6"/>
<circle cx="524.80" cy="236.57" r="1.6"/>
<circle cx="527.30" cy="236.12" r="1.6"/>
<circle cx="523.55" cy="235.29" r="1.6"/>
<circle cx="526.05" cy="234.55" r="1.6"/>
<circle cx="524.80" cy="232.86" r="1.6"/>
<circle cx="610.00" cy="218.70" r="1.6"/>
<circle cx="612.50" cy="218.02" r="1.6"/>
<circle cx="610.00" cy="216.04" r="1.6"/>
<circle cx="612.50" cy="215.59" r="1.6"/>
<circle cx="610.00" cy="213.34" r="1.6"/>
<circle cx="610.00" cy="186.98" r="1.6"/>
<circle cx="610.00" cy="182.61" r="1.6"/>
<circle cx="610.00" cy="179.73" r="1.6"/>
<circle cx="612.50" cy="178.79" r="1.6"/>
<circle cx="610.00" cy="172.28" r="1.6"/>
<circle cx="612.50" cy="171.64" r="1.6"/>
<circle cx="607.50" cy="172.17" r="1.6"/>
<circle cx="615.00" cy="171.14" r="1.6"/>
<circle cx="610.00" cy="169.44" r="1.6"/>
<circle cx="612.50" cy="169.13" r="1.6"/>
<circle cx="610.00" cy="165.82" r="1.6"/>
<circle cx="610.00" cy="163.68" r="1.6"/>
<circle cx="612.50" cy="163.51" r="1.6"/>
<circle cx="607.50" cy="163.03" r="1.6"/>
<circle cx="610.00" cy="161.83" r="1.6"/>
<circle cx="610.00" cy="159.04" r="1.6"/>
<circle cx="611.25" cy="157.75" r="1.6"/>
<circle cx="607.50" cy="158.13" r="1.6"/>
<circle cx="610.00" cy="156.40" r="1.6"/>
<circle cx="611.25" cy="155.13" r="1.6"/>
<circle cx="608.75" cy="154.27" r="1.6"/>
<circle cx="610.00" cy="152.49" r="1.6"/>
<circle cx="612.50" cy="152.02" r="1.6"/>
<circle cx="607.50" cy="151.61" r="1.6"/>
<circle cx="610.00" cy="143.28" r="1.6"/>
<circle cx="612.50" cy="142.88" r="1.6"/>
<circle cx="610.00" cy="141.56" r="1.6"/>
<circle cx="610.00" cy="139.35" r="1.6"/>
<circle cx="612.50" cy="138.32" r="1.6"/>
<circle cx="610.00" cy="135.55" r="1.6"/>
<circle cx="612.50" cy="134.63" r="1.6"/>
<circle cx="610.00" cy="133.81" r="1.6"/>
<circle cx="607.50" cy="133.25" r="1.6"/>
<circle cx="610.00" cy="130.35" r="1.6"/>
<circle cx="612.50" cy="129.63" r="1.6"/>
<circle cx="610.00" cy="127.99" r="1.6"/>
<circle cx="631.30" cy="213.36" r="1.6"/>
<circle cx="633.80" cy="213.57" r="1.6"/>
<circle cx="628.80" cy="213.05" r="1.6"/>
<circle cx="636.30" cy="212.74" r="1.6"/>
<circle cx="631.30" cy="173.86" r="1.6"/>
<circle cx="631.30" cy="170.62" r="1.6"/>
<circle cx="633.80" cy="170.61" r="1.6"/>
<circle cx="628.80" cy="170.34" r="1.6"/>
<circle cx="632.55" cy="168.92" r="1.6"/>
<circle cx="631.30" cy="166.98" r="1.6"/>
<circle cx="631.30" cy="155.62" r="1.6"/>
<circle cx="631.30" cy="146.16" r="1.6"/>
<circle cx="631.30" cy="135.34" r="1.6"/>
<circle cx="633.80" cy="135.16" r="1.6"/>
<circle cx="628.80" cy="134.82" r="1.6"/>
<circle cx="631.30" cy="133.24" r="1.6"/>
<circle cx="633.80" cy="132.14" r="1.6"/>
<circle cx="630.05" cy="131.64" r="1.6"/>
<circle cx="632.55" cy="130.99" r="1.6"/>
<circle cx="630.05" cy="129.94" r="1.6"/>
<circle cx="635.05" cy="130.07" r="1.6"/>
<circle cx="627.55" cy="129.68" r="1.6"/>
<circle cx="637.55" cy="129.37" r="1.6"/>
<circle cx="625.05" cy="129.45" r="1.6"/>
<circle cx="632.55" cy="129.21" r="1.6"/>
<circle cx="640.05" cy="129.21" r="1.6"/>
<circle cx="631.30" cy="127.98" r="1.6"/>
<circle cx="633.80" cy="127.83" r="1.6"/>
<circle cx="628.80" cy="127.61" r="1.6"/>
<circle cx="636.30" cy="127.61" r="1.6"/>
<circle cx="631.30" cy="126.00" r="1.6"/>
<circle cx="633.80" cy="125.68" r="1.6"/>
<circle cx="628.80" cy="125.64" r="1.6"/>
<circle cx="636.30" cy="125.61" r="1.6"/>
<circle cx="626.30" cy="124.83" r="1.6"/>
<circle cx="631.30" cy="124.09" r="1.6"/>
<circle cx="633.80" cy="123.45" r="1.6"/>
<circle cx="630.05" cy="122.77" r="1.6"/>
<circle cx="627.55" cy="122.86" r="1.6"/>
<circle cx="636.30" cy="122.33" r="1.6"/>
<circle cx="632.55" cy="122.06" r="1.6"/>
<circle cx="625.05" cy="122.03" r="1.6"/>
<circle cx="638.80" cy="121.67" r="1.6"/>
<circle cx="628.80" cy="121.20" r="1.6"/>
<circle cx="622.55" cy="121.20" r="1.6"/>
<circle cx="631.30" cy="119.61" r="1.6"/>
<circle cx="631.30" cy="107.79" r="1.6"/>
<circle cx="632.55" cy="106.61" r="1.6"/>
<circle cx="630.05" cy="106.18" r="1.6"/>
<circle cx="635.05" cy="105.83" r="1.6"/>
<circle cx="652.60" cy="175.87" r="1.6"/>
<circle cx="652.60" cy="172.20" r="1.6"/>
<circle cx="655.10" cy="171.12" r="1.6"/>
<circle cx="652.60" cy="163.90" r="1.6"/>
<circle cx="655.10" cy="163.74" r="1.6"/>
<circle cx="650.10" cy="162.98" r="1.6"/>
<circle cx="652.60" cy="160.94" r="1.6"/>
<circle cx="655.10" cy="160.78" r="1.6"/>
<circle cx="652.60" cy="158.58" r="1.6"/>
<circle cx="655.10" cy="158.48" r="1.6"/>
<circle cx="652.60" cy="156.10" r="1.6"/>
<circle cx="655.10" cy="155.64" r="1.6"/>
<circle cx="650.10" cy="155.53" r="1.6"/>
<circle cx="657.60" cy="154.86" r="1.6"/>
<circle cx="653.85" cy="154.45" r="1.6"/>
<circle cx="647.60" cy="154.51" r="1.6"/>
<circle cx="651.35" cy="154.23" r="1.6"/>
<circle cx="656.35" cy="153.51" r="1.6"/>
<circle cx="652.60" cy="151.65" r="1.6"/>
<circle cx="655.10" cy="151.52" r="1.6"/>
<circle cx="650.10" cy="150.73" r="1.6"/>
<circle cx="653.85" cy="150.35" r="1.6"/>
<circle cx="657.60" cy="150.61" r="1.6"/>
<circle cx="652.60" cy="134.06" r="1.6"/>
<circle cx="655.10" cy="133.90" r="1.6"/>
<circle cx="650.10" cy="133.96" r="1.6"/>
<circle cx="657.60" cy="133.77" r="1.6"/>
<circle cx="647.60" cy="133.63" r="1.6"/>
<circle cx="660.10" cy="133.15" r="1.6"/>
<circle cx="645.10" cy="133.45" r="1.6"/>
<circle cx="652.60" cy="131.92" r="1.6"/>
<circle cx="655.10" cy="131.19" r="1.6"/>
<circle cx="650.10" cy="131.01" r="1.6"/>
<circle cx="657.60" cy="130.28" r="1.6"/>
<circle cx="652.60" cy="130.02" r="1.6"/>
<circle cx="648.85" cy="129.60" r="1.6"/>
<circle cx="646.35" cy="129.57" r="1.6"/>
<circle cx="655.10" cy="129.21" r="1.6"/>
<circle cx="652.60" cy="127.82" r="1.6"/>
<circle cx="650.10" cy="128.15" r="1.6"/>
<circle cx="656.35" cy="128.00" r="1.6"/>
<circle cx="647.60" cy="127.38" r="1.6"/>
<circle cx="658.85" cy="127.10" r="1.6"/>
<circle cx="645.10" cy="126.89" r="1.6"/>
<circle cx="661.35" cy="126.95" r="1.6"/>
<circle cx="652.60" cy="124.78" r="1.6"/>
<circle cx="653.85" cy="123.61" r="1.6"/>
<circle cx="651.35" cy="123.46" r="1.6"/>
<circle cx="652.60" cy="120.96" r="1.6"/>
<circle cx="655.10" cy="121.05" r="1.6"/>
<circle cx="650.10" cy="120.72" r="1.6"/>
<circle cx="652.60" cy="102.93" r="1.6"/>
<circle cx="655.10" cy="102.45" r="1.6"/>
<circle cx="673.90" cy="161.05" r="1.6"/>
<circle cx="676.40" cy="160.13" r="1.6"/>
<circle cx="673.90" cy="152.92" r="1.6"/>
<circle cx="676.40" cy="152.62" r="1.6"/>
<circle cx="673.90" cy="143.19" r="1.6"/>
<circle cx="676.40" cy="142.45" r="1.6"/>
<circle cx="672.65" cy="141.53" r="1.6"/>
<circle cx="675.15" cy="140.87" r="1.6"/>
<circle cx="677.65" cy="140.43" r="1.6"/>
<circle cx="671.40" cy="140.36" r="1.6"/>
<circle cx="673.90" cy="131.27" r="1.6"/>
<circle cx="676.40" cy="130.89" r="1.6"/>
<circle cx="671.40" cy="130.76" r="1.6"/>
<circle cx="678.90" cy="130.19" r="1.6"/>
<circle cx="668.90" cy="130.27" r="1.6"/>
<circle cx="681.40" cy="129.81" r="1.6"/>
<circle cx="673.90" cy="118.32" r="1.6"/>
<circle cx="676.40" cy="117.68" r="1.6"/>
<circle cx="673.90" cy="114.55" r="1.6"/>
<circle cx="675.15" cy="113.17" r="1.6"/>
<circle cx="672.65" cy="112.23" r="1.6"/>
<circle cx="677.65" cy="112.09" r="1.6"/>
<circle cx="670.15" cy="111.80" r="1.6"/>
<circle cx="680.15" cy="111.55" r="1.6"/>
<circle cx="673.90" cy="109.95" r="1.6"/>
<circle cx="676.40" cy="109.73" r="1.6"/>
<circle cx="671.40" cy="109.67" r="1.6"/>
<circle cx="678.90" cy="109.25" r="1.6"/>
<circle cx="673.90" cy="107.65" r="1.6"/>
<circle cx="676.40" cy="107.30" r="1.6"/>
<circle cx="671.40" cy="107.06" r="1.6"/>
<circle cx="678.90" cy="106.28" r="1.6"/>
<circle cx="673.90" cy="105.68" r="1.6"/>
<circle cx="670.15" cy="105.61" r="1.6"/>
<circle cx="676.40" cy="104.96" r="1.6"/>
<circle cx="672.65" cy="104.40" r="1.6"/>
<circle cx="678.90" cy="103.93" r="1.6"/>
<circle cx="670.15" cy="103.82" r="1.6"/>
<circle cx="673.90" cy="102.41" r="1.6"/>
<circle cx="673.90" cy="99.96" r="1.6"/>
<circle cx="676.40" cy="100.03" r="1.6"/>
<circle cx="671.40" cy="99.02" r="1.6"/>
<circle cx="695.20" cy="154.01" r="1.6"/>
<circle cx="697.70" cy="153.12" r="1.6"/>
<circle cx="695.20" cy="145.35" r="1.6"/>
<circle cx="695.20" cy="142.53" r="1.6"/>
<circle cx="697.70" cy="142.50" r="1.6"/>
<circle cx="696.45" cy="141.28" r="1.6"/>
<circle cx="693.95" cy="140.52" r="1.6"/>
<circle cx="697.70" cy="139.63" r="1.6"/>
<circle cx="695.20" cy="138.01" r="1.6"/>
<circle cx="697.70" cy="137.43" r="1.6"/>
<circle cx="695.20" cy="129.29" r="1.6"/>
<circle cx="697.70" cy="129.67" r="1.6"/>
<circle cx="692.70" cy="129.01" r="1.6"/>
<circle cx="700.20" cy="128.71" r="1.6"/>
<circle cx="690.20" cy="128.78" r="1.6"/>
<circle cx="695.20" cy="120.38" r="1.6"/>
<circle cx="697.70" cy="120.09" r="1.6"/>
<circle cx="693.95" cy="119.08" r="1.6"/>
<circle cx="695.20" cy="117.23" r="1.6"/>
<circle cx="697.70" cy="116.55" r="1.6"/>
<circle cx="695.20" cy="115.14" r="1.6"/>
<circle cx="697.70" cy="114.22" r="1.6"/>
<circle cx="695.20" cy="111.53" r="1.6"/>
<circle cx="697.70" cy="111.34" r="1.6"/>
<circle cx="693.95" cy="110.22" r="1.6"/>
<circle cx="695.20" cy="108.17" r="1.6"/>
<circle cx="696.45" cy="106.96" r="1.6"/>
<circle cx="695.20" cy="104.01" r="1.6"/>
<circle cx="697.70" cy="103.45" r="1.6"/>
<circle cx="692.70" cy="103.64" r="1.6"/>
<circle cx="716.50" cy="159.53" r="1.6"/>
<circle cx="716.50" cy="151.88" r="1.6"/>
<circle cx="716.50" cy="140.42" r="1.6"/>
<circle cx="716.50" cy="132.18" r="1.6"/>
<circle cx="719.00" cy="131.42" r="1.6"/>
<circle cx="715.25" cy="130.48" r="1.6"/>
<circle cx="716.50" cy="128.40" r="1.6"/>
<circle cx="717.75" cy="127.10" r="1.6"/>
<circle cx="716.50" cy="125.37" r="1.6"/>
<circle cx="719.00" cy="125.16" r="1.6"/>
<circle cx="714.00" cy="124.52" r="1.6"/>
<circle cx="716.50" cy="120.30" r="1.6"/>
<circle cx="719.00" cy="120.22" r="1.6"/>
<circle cx="714.00" cy="119.42" r="1.6"/>
<circle cx="716.50" cy="116.59" r="1.6"/>
<circle cx="719.00" cy="116.94" r="1.6"/>
<circle cx="717.75" cy="115.34" r="1.6"/>
<circle cx="715.25" cy="114.75" r="1.6"/>
<circle cx="716.50" cy="105.21" r="1.6"/>
<circle cx="719.00" cy="105.09" r="1.6"/>
<circle cx="714.00" cy="105.11" r="1.6"/>
<circle cx="721.50" cy="104.76" r="1.6"/>
<circle cx="711.50" cy="104.43" r="1.6"/>
<circle cx="717.75" cy="103.74" r="1.6"/>
<circle cx="715.25" cy="103.57" r="1.6"/>
<circle cx="719.00" cy="102.54" r="1.6"/>
<circle cx="716.50" cy="100.94" r="1.6"/>
<circle cx="714.00" cy="101.18" r="1.6"/>
<circle cx="719.00" cy="100.06" r="1.6"/>
<circle cx="715.25" cy="99.35" r="1.6"/>
<circle cx="716.50" cy="97.88" r="1.6"/>
<circle cx="716.50" cy="95.10" r="1.6"/>
<circle cx="737.80" cy="143.15" r="1.6"/>
<circle cx="740.30" cy="143.03" r="1.6"/>
<circle cx="737.80" cy="131.19" r="1.6"/>
<circle cx="740.30" cy="130.10" r="1.6"/>
<circle cx="737.80" cy="125.37" r="1.6"/>
<circle cx="740.30" cy="125.34" r="1.6"/>
<circle cx="735.30" cy="124.68" r="1.6"/>
<circle cx="739.05" cy="123.89" r="1.6"/>
<circle cx="737.80" cy="122.61" r="1.6"/>
<circle cx="737.80" cy="120.64" r="1.6"/>
<circle cx="737.80" cy="116.45" r="1.6"/>
<circle cx="737.80" cy="113.99" r="1.6"/>
</g>
<path d="M496.60,228.18H510.40M499.90,226.12H507.10M499.90,230.24H507.10M503.50,226.12V230.24" stroke="#161616" stroke-width="1.4" fill="none"/>
<path d="M517.90,226.96H531.70M521.20,224.21H528.40M521.20,229.70H528.40M524.80,224.21V229.70" stroke="#9e1a1e" stroke-width="1.4" fill="none"/>
<path d="M539.20,192.19H553.00M542.50,188.38H549.70M542.50,196.00H549.70M546.10,188.38V196.00" stroke="#161616" stroke-width="1.4" fill="none"/>
<path d="M560.50,191.73H574.30M563.80,187.61H571.00M563.80,195.85H571.00M567.40,187.61V195.85" stroke="#9e1a1e" stroke-width="1.4" fill="none"/>
<path d="M581.80,164.43H595.60M585.10,160.47H592.30M585.10,168.40H592.30M588.70,160.47V168.40" stroke="#161616" stroke-width="1.4" fill="none"/>
<path d="M603.10,160.01H616.90M606.40,156.66H613.60M606.40,163.37H613.60M610.00,156.66V163.37" stroke="#9e1a1e" stroke-width="1.4" fill="none"/>
<path d="M624.40,138.97H638.20M627.70,135.61H634.90M627.70,142.32H634.90M631.30,135.61V142.32" stroke="#161616" stroke-width="1.4" fill="none"/>
<path d="M645.70,138.51H659.50M649.00,136.53H656.20M649.00,140.49H656.20M652.60,136.53V140.49" stroke="#9e1a1e" stroke-width="1.4" fill="none"/>
<path d="M667.00,124.78H680.80M670.30,122.04H677.50M670.30,127.53H677.50M673.90,122.04V127.53" stroke="#161616" stroke-width="1.4" fill="none"/>
<path d="M688.30,124.78H702.10M691.60,123.56H698.80M691.60,126.00H698.80M695.20,123.56V126.00" stroke="#9e1a1e" stroke-width="1.4" fill="none"/>
<path d="M709.60,110.30H723.40M712.90,107.86H720.10M712.90,112.74H720.10M716.50,107.86V112.74" stroke="#161616" stroke-width="1.4" fill="none"/>
<path d="M730.90,111.21H744.70M734.20,109.99H741.40M734.20,112.43H741.40M737.80,109.99V112.43" stroke="#9e1a1e" stroke-width="1.4" fill="none"/>
<path d="M503.0,210.5H524.7M503.0,206.3V214.7M524.7,206.3V214.7" stroke="#1a1a1a" stroke-width="1.6" fill="none"/>
<text x="514.05" y="207.40" font-size="7.8" fill="#111" text-anchor="middle" >NS</text>
<path d="M545.8,174.8H567.5M545.8,170.60000000000002V179.0M567.5,170.60000000000002V179.0" stroke="#1a1a1a" stroke-width="1.6" fill="none"/>
<text x="556.85" y="171.40" font-size="7.8" fill="#111" text-anchor="middle" >NS</text>
<path d="M585.7,131.5H607.2M585.7,127.3V135.7M607.2,127.3V135.7" stroke="#1a1a1a" stroke-width="1.6" fill="none"/>
<text x="596.65" y="127.20" font-size="7.8" fill="#111" text-anchor="middle" >NS</text>
<path d="M629.4,112.1H651.7M629.4,107.89999999999999V116.3M651.7,107.89999999999999V116.3" stroke="#1a1a1a" stroke-width="1.6" fill="none"/>
<text x="640.75" y="105.40" font-size="7.8" fill="#111" text-anchor="middle" >NS</text>
<path d="M672.7,95.8H694.3M672.7,91.6V100.0M694.3,91.6V100.0" stroke="#1a1a1a" stroke-width="1.6" fill="none"/>
<text x="683.70" y="93.30" font-size="7.8" fill="#111" text-anchor="middle" >NS</text>
<path d="M715.7,89.9H737.9M715.7,85.7V94.10000000000001M737.9,85.7V94.10000000000001" stroke="#1a1a1a" stroke-width="1.6" fill="none"/>
<text x="727.00" y="85.80" font-size="7.8" fill="#111" text-anchor="middle" >NS</text>
</svg>
</body></html>
